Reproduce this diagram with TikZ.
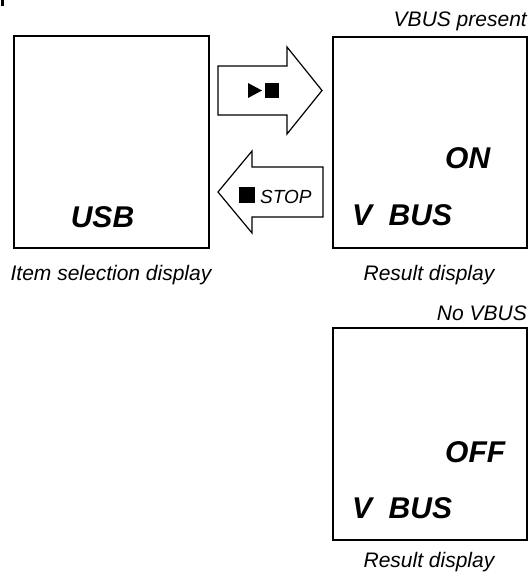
\documentclass[tikz,border=0pt]{standalone}
\usepackage{fontspec}
\setmainfont{Liberation Sans}
\begin{document}
\begin{tikzpicture}[x=1pt,y=-1pt,
  panel/.style={draw, line width=1.5pt},
  blockarrow/.style={draw, line width=1.2pt, line join=miter, fill=white},
  bigtxt/.style={inner sep=0pt, font=\fontsize{30}{30}\selectfont\bfseries\itshape},
  captxt/.style={inner sep=0pt, font=\fontsize{21}{21}\selectfont\itshape},
  smalltxt/.style={inner sep=0pt, font=\fontsize{19}{19}\selectfont\itshape}]
\useasboundingbox (0,0) rectangle (529,573);
% corner mark
\fill (1,0) rectangle (4,6);
% panels
\draw[panel] (14,36) rectangle (209,248);
\draw[panel] (333,37) rectangle (527,248);
\draw[panel] (333,328) rectangle (527,540);
\coordinate (p1) at (111,142);
\coordinate (p2) at (430,142);
\coordinate (p3) at (430,434);
% panel texts
\node[bigtxt, anchor=base] (usb) at (102.5,227) {USB};
\node[bigtxt, anchor=base west] (on) at (445,168) {ON};
\node[bigtxt, anchor=base west] (vbus1) at (352,225) {V\hspace{0.55em}BUS};
\node[bigtxt, anchor=base west] (off) at (445,462) {OFF};
\node[bigtxt, anchor=base west] (vbus2) at (352,518) {V\hspace{0.55em}BUS};
% captions
\node[captxt, anchor=base east] (cap1) at (527,26) {VBUS present};
\node[captxt, anchor=base east] (cap2) at (527,320) {No VBUS};
\node[captxt, anchor=base] (cap3) at (111,280) {Item selection display};
\node[captxt, anchor=base] (cap4) at (429,280) {Result display};
\node[captxt, anchor=base] (cap5) at (429,567) {Result display};
% right block arrow
\draw[blockarrow] (218,66) -- (287,66) -- (287,47) -- (322,90.5) -- (287,134) -- (287,115) -- (218,115) -- cycle;
\fill (248,83) -- (262,90.5) -- (248,98) -- cycle;
\fill (265,83) rectangle (279,98);
% left block arrow
\draw[blockarrow] (323,167) -- (252,167) -- (252,151) -- (218,192) -- (252,233) -- (252,217) -- (323,217) -- cycle;
\fill (238.5,187) rectangle (254.5,203);
\node[smalltxt, anchor=base west] (stop) at (260,203) {STOP};
\end{tikzpicture}
\end{document}
